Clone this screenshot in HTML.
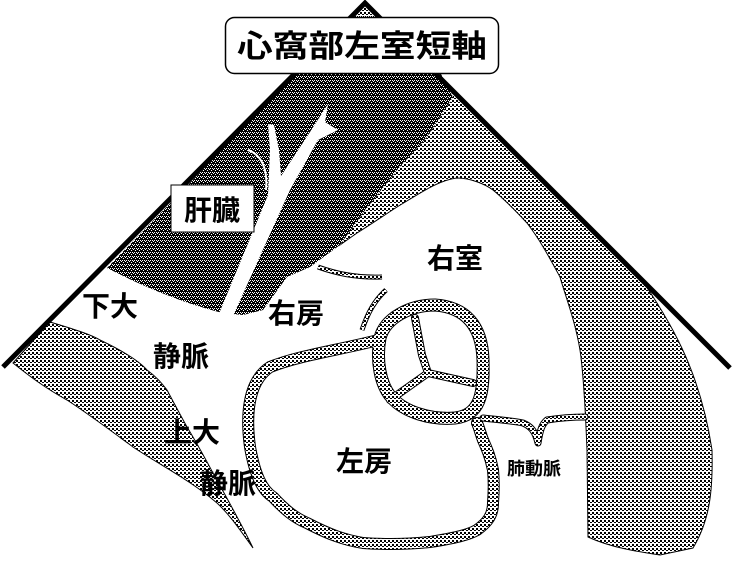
<!DOCTYPE html>
<html><head><meta charset="utf-8"><style>
html,body{margin:0;padding:0;background:#fff;}
svg{display:block;}
text{font-family:"Liberation Sans","Noto Sans CJK JP",sans-serif;fill:#000;font-weight:bold;}
</style></head><body>
<svg width="732" height="563" viewBox="0 0 732 563" xmlns="http://www.w3.org/2000/svg">
<defs>
<pattern id="lt" width="4" height="4" patternUnits="userSpaceOnUse">
<rect width="4" height="4" fill="#fff"/>
<rect x="0" y="0" width="2" height="2" fill="#000"/>
<rect x="2" y="2" width="2" height="1" fill="#000"/>
</pattern>
<pattern id="dk" width="4" height="4" patternUnits="userSpaceOnUse">
<rect width="4" height="4" fill="#000"/>
<rect x="0" y="0" width="1" height="1" fill="#fff"/>
<rect x="2" y="0" width="1" height="1" fill="#fff"/>
<rect x="1" y="1" width="1" height="1" fill="#fff"/>
<rect x="3" y="2" width="1" height="1" fill="#fff"/>
</pattern>
</defs>

<path d="M365,3 L637,273 C670,320 700,370 712,450 C713,490 710,520 693,548 L660,555 C640,552 612,548 588,537 L587,450 C585,400 583,370 580,350 C575,320 565,295 560,277 C548,255 540,240 527,223 C515,210 505,200 493,190 C485,184 470,178 457,178 C440,180 425,190 397,207 C380,218 370,225 357,233 L340,245 L330,90 Z" fill="url(#lt)" stroke="#000" stroke-width="1"/>

<path d="M365,3 L441,74 L453,97 L427,137 L397,170 L363,213 L340,245 L310,267 L287,277 L263,310 L243,315 L223,313 C190,305 150,290 107,268 Z" fill="url(#dk)"/>

<path d="M365,3 L378,16 L352,16 Z" fill="url(#lt)"/>

<path d="M218,316 L233,316 L290,190 L318,140 L338,130 L325,122 L328,104 L310,132 L281,176 L279,150 L274,125 L268,124 L270,150 L268,195 Z" fill="#fff"/>
<path d="M248,150 C262,155 268,170 266,190" fill="none" stroke="#fff" stroke-width="2"/>

<path d="M50,322 C70,328 90,334 100,340 C125,352 140,362 147,370 C158,378 163,385 167,390 C175,405 182,418 187,427 C198,445 206,460 213,473 C228,500 242,525 253,548 C240,530 230,515 217,503 C190,480 160,465 133,447 C110,430 90,415 67,400 C45,388 28,375 13,363 Z" fill="url(#lt)" stroke="#000" stroke-width="1"/>

<path d="M3,367 L365,3 L730,368" fill="none" stroke="#000" stroke-width="5"/>

<path d="M318,267 C335,273 355,278 382,277" fill="none" stroke="#000" stroke-width="5"/>
<path d="M318,267 C335,273 355,278 382,277" fill="none" stroke="url(#lt)" stroke-width="3"/>
<path d="M362,330 C368,312 375,300 386,290" fill="none" stroke="#000" stroke-width="5"/>
<path d="M362,330 C368,312 375,300 386,290" fill="none" stroke="url(#lt)" stroke-width="3"/>

<g fill="none" stroke-linecap="round" stroke-linejoin="round">
<g stroke="#000">
<path d="M378,340 C340,350 300,355 270,367 C250,380 245,410 250,447 C255,475 262,490 273,497 C285,510 295,518 307,523 C330,535 345,540 363,543 C390,545 410,544 430,542 C455,538 468,535 477,530 C488,522 493,515 493,503 C494,490 494,480 493,470 C490,455 486,447 483,440 C480,432 479,427 477,423" stroke-width="12"/>
<path d="M380,338 C385,318 410,305 435,305 C465,307 482,325 483,360 C484,395 480,415 455,418 C430,420 405,412 392,398 C380,385 376,360 380,338 Z" stroke-width="13"/>
<path d="M415,318 L422,355 L428,373 L473,383 M428,373 L390,400" stroke-width="8"/>
<path d="M483,418 C500,420 515,421 523,423 C530,426 535,430 538,443 C540,430 542,424 547,420 C560,418 570,417 585,417" stroke-width="7"/>
</g>
<g stroke="url(#lt)">
<path d="M378,340 C340,350 300,355 270,367 C250,380 245,410 250,447 C255,475 262,490 273,497 C285,510 295,518 307,523 C330,535 345,540 363,543 C390,545 410,544 430,542 C455,538 468,535 477,530 C488,522 493,515 493,503 C494,490 494,480 493,470 C490,455 486,447 483,440 C480,432 479,427 477,423" stroke-width="10"/>
<path d="M380,338 C385,318 410,305 435,305 C465,307 482,325 483,360 C484,395 480,415 455,418 C430,420 405,412 392,398 C380,385 376,360 380,338 Z" stroke-width="11"/>
<path d="M415,318 L422,355 L428,373 L473,383 M428,373 L390,400" stroke-width="6"/>
<path d="M483,418 C500,420 515,421 523,423 C530,426 535,430 538,443 C540,430 542,424 547,420 C560,418 570,417 585,417" stroke-width="5"/>
</g>
</g>

<rect x="225.5" y="17.5" width="273" height="56" rx="9" fill="#fff" stroke="#000" stroke-width="1.5"/>
<text x="362" y="57" font-size="31" text-anchor="middle" textLength="250" lengthAdjust="spacingAndGlyphs">心窩部左室短軸</text>

<rect x="171" y="185" width="83" height="47" fill="#fff" stroke="#000" stroke-width="1"/>
<text x="212" y="220" font-size="28" text-anchor="middle">肝臓</text>

<text x="82" y="316" font-size="28">下大</text>
<text x="153" y="366" font-size="28">静脈</text>
<text x="164" y="442" font-size="28">上大</text>
<text x="200" y="493" font-size="28">静脈</text>
<text x="268" y="323" font-size="28">右房</text>
<text x="427" y="268" font-size="28">右室</text>
<text x="336" y="471" font-size="28">左房</text>
<text x="507" y="475" font-size="18">肺動脈</text>
</svg>
</body></html>
